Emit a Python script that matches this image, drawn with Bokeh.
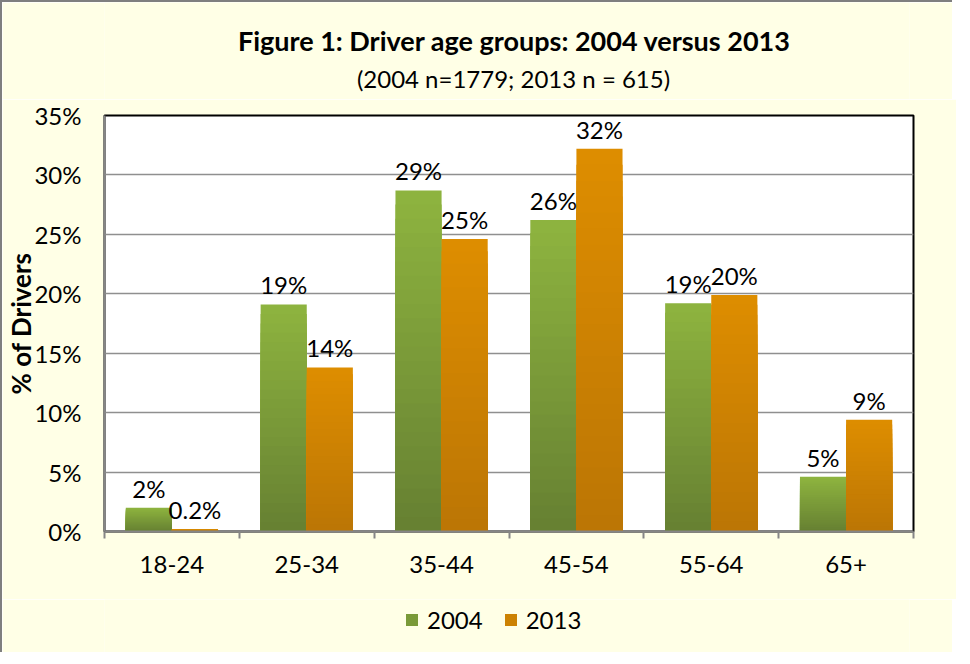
from bokeh.plotting import figure
from bokeh.layouts import column
from bokeh.models import (ColumnDataSource, FixedTicker, Label, LabelSet, Legend,
                          LegendItem, Range1d)
from bokeh.transform import dodge
from bokeh.core.properties import value
from bokeh.embed import file_html
from bokeh.resources import INLINE

# ---- data ----
categories = ["18-24", "25-34", "35-44", "45-54", "55-64", "65+"]
series_names = ["2004", "2013"]
values_2004 = [2.0, 19.1, 28.7, 26.2, 19.2, 4.6]
values_2013 = [0.2, 13.8, 24.6, 32.2, 19.9, 9.4]
y_ticks = [0, 5, 10, 15, 20, 25, 30, 35]
title_text = "Figure 1: Driver age groups: 2004 versus 2013"
subtitle_text = "(2004 n=1779; 2013 n = 615)"
y_label_text = "% of Drivers"

# ---- styles ----
FONT = "Lato"
GREEN_TOP, GREEN_BOT = (142, 180, 63), (102, 128, 50)
ORANGE_TOP, ORANGE_BOT = (222, 141, 0), (187, 118, 5)
BG = "#FFFFE6"
EDGE = "2px solid #7F7F7F"
BAR_W = 0.342
N_SHADE = 24
TXT = "24px"
W = 952


def fmt(v):
    return f"{v:.0f}%" if v >= 1 else f"{v:.1f}%"


def mix(c_top, c_bot, t):
    # t = 1 at top, 0 at bottom
    r, g, b = (round(c_bot[i] + (c_top[i] - c_bot[i]) * t) for i in range(3))
    return f"#{r:02x}{g:02x}{b:02x}"


def strip(height):
    f = figure(width=W, height=height, x_range=Range1d(0, 1), y_range=Range1d(0, 1),
               x_axis_type=None, y_axis_type=None, output_backend="svg",
               toolbar_location=None, min_border=0, background_fill_color=BG,
               border_fill_color=BG, outline_line_color=None)
    f.grid.visible = False
    return f


centers = [i + 0.5 for i in range(len(categories))]
src = ColumnDataSource(dict(
    x=centers,
    v2004=values_2004,
    v2013=values_2013,
    l2004=[fmt(v) for v in values_2004],
    l2013=[fmt(v) for v in values_2013],
))

# ---- title strip ----
t = strip(99)
t.styles = {"border-left": EDGE, "border-top": EDGE}
t.add_layout(Label(x=410, y=61, x_units="screen", y_units="screen", text=title_text,
                   text_align="center", text_baseline="middle", text_font=FONT,
                   text_font_style="bold", text_font_size="27px", text_color="black"))
t.add_layout(Label(x=409, y=23, x_units="screen", y_units="screen", text=subtitle_text,
                   text_align="center", text_baseline="middle", text_font=FONT,
                   text_font_size="24px", text_color="black"))

# ---- main chart ----
p = figure(frame_width=807, frame_height=416, title=None,
           x_range=Range1d(0, len(categories)), y_range=Range1d(y_ticks[0], y_ticks[-1]),
           output_backend="svg", toolbar_location=None,
           min_border_left=100, min_border_top=16, min_border_right=45, min_border_bottom=68,
           background_fill_color="white", border_fill_color=BG,
           outline_line_color="black", outline_line_width=2)
p.styles = {"border-left": EDGE}

# bars, with a vertical shade drawn as nested bars (tallest/lightest first)
series = [(values_2004, -BAR_W / 2, GREEN_TOP, GREEN_BOT),
          (values_2013, BAR_W / 2, ORANGE_TOP, ORANGE_BOT)]
for vals, off, ctop, cbot in series:
    for k in range(N_SHADE):
        frac = (N_SHADE - k) / N_SHADE
        s = ColumnDataSource(dict(x=centers, top=[v * frac for v in vals]))
        p.vbar(x=dodge("x", off, range=p.x_range), top="top", width=BAR_W, source=s,
               fill_color=mix(ctop, cbot, frac - 0.5 / N_SHADE), line_color=None)

for off, ycol, lcol in [(-BAR_W / 2, "v2004", "l2004"), (BAR_W / 2, "v2013", "l2013")]:
    p.add_layout(LabelSet(x=dodge("x", off, range=p.x_range), y=ycol, text=lcol,
                          source=src, y_offset=5, text_align="center",
                          text_baseline="bottom", text_font=value(FONT),
                          text_font_size=TXT, text_color="black"))

xa = p.xaxis[0]
xa.ticker = FixedTicker(ticks=centers, minor_ticks=list(range(len(categories) + 1)))
xa.major_label_overrides = {c: cat for c, cat in zip(centers, categories)}
xa.major_tick_line_color = None
xa.major_tick_out = 0
xa.minor_tick_line_color = "#868686"
xa.minor_tick_line_width = 2
xa.minor_tick_out = 7
xa.minor_tick_in = 0
xa.axis_line_color = "#868686"
xa.axis_line_width = 2
xa.major_label_standoff = 17
xa.major_label_text_font = FONT
xa.major_label_text_font_size = TXT
xa.major_label_text_color = "black"

ya = p.yaxis[0]
ya.ticker = FixedTicker(ticks=y_ticks)
ya.major_label_overrides = {v: f"{v}%" for v in y_ticks}
ya.major_tick_line_color = None
ya.minor_tick_line_color = None
ya.major_tick_out = 0
ya.axis_line_color = "#868686"
ya.axis_line_width = 2
ya.major_label_standoff = 23
ya.major_label_text_font = FONT
ya.major_label_text_font_size = TXT
ya.major_label_text_color = "black"
ya.axis_label = y_label_text
ya.axis_label_text_font = FONT
ya.axis_label_text_font_style = "bold"
ya.axis_label_text_font_size = "26px"
ya.axis_label_text_color = "black"
ya.axis_label_standoff = -6

p.xgrid.grid_line_color = None
p.ygrid.grid_line_color = "#8F8F8F"
p.ygrid.grid_line_width = 1.5
p.ygrid.ticker = FixedTicker(ticks=y_ticks)

# ---- legend strip ----
q = strip(53)
q.styles = {"border-left": EDGE}
items = []
for name, (vals, off, ctop, cbot) in zip(series_names, series):
    r = q.vbar(x=centers, top=vals, width=BAR_W, fill_color=mix(ctop, cbot, 0.5),
               line_color=None, visible=False)  # legend proxy only
    items.append(LegendItem(label=name, renderers=[r]))
q.add_layout(Legend(items=items, orientation="horizontal", location=(300, 18),
                    glyph_width=15, glyph_height=15, label_standoff=8, spacing=20,
                    padding=0, margin=0, border_line_color=None, background_fill_alpha=0,
                    inactive_fill_alpha=0,
                    label_text_font=FONT, label_text_font_size=TXT,
                    label_text_color="black"), "center")

layout = column(t, p, q, spacing=0)
open("out.html", "w").write(file_html(layout, INLINE))
